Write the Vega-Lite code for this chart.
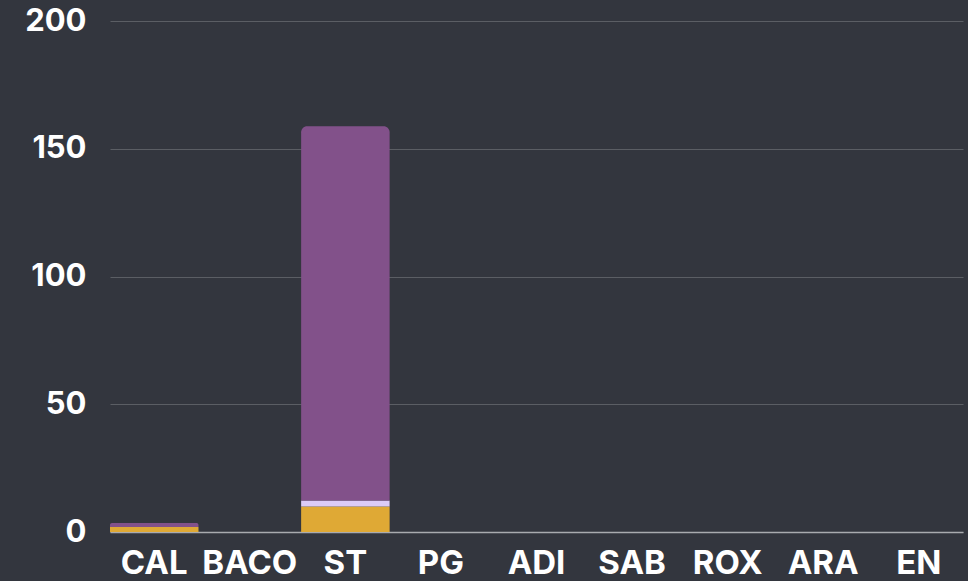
{
  "$schema": "https://vega.github.io/schema/vega-lite/v6.json",
  "autosize": "none",
  "width": 853,
  "height": 511,
  "padding": {"left": 110, "top": 21, "right": 5, "bottom": 49},
  "background": "#33363e",
  "config": {
    "view": {"stroke": null},
    "font": "Inter"
  },
  "data": {
    "values": [
      {"cat": "CAL", "series": "A", "order": 1, "value": 2},
      {"cat": "CAL", "series": "B", "order": 2, "value": 0},
      {"cat": "CAL", "series": "C", "order": 3, "value": 1.5},
      {"cat": "BACO", "series": "A", "order": 1, "value": 0},
      {"cat": "ST", "series": "A", "order": 1, "value": 10},
      {"cat": "ST", "series": "B", "order": 2, "value": 2.3},
      {"cat": "ST", "series": "C", "order": 3, "value": 146.5},
      {"cat": "PG", "series": "A", "order": 1, "value": 0},
      {"cat": "ADI", "series": "A", "order": 1, "value": 0},
      {"cat": "SAB", "series": "A", "order": 1, "value": 0},
      {"cat": "ROX", "series": "A", "order": 1, "value": 0},
      {"cat": "ARA", "series": "A", "order": 1, "value": 0},
      {"cat": "EN", "series": "A", "order": 1, "value": 0}
    ]
  },
  "transform": [
    {"stack": "value", "groupby": ["cat"], "sort": [{"field": "order", "order": "ascending"}], "as": ["y0", "y1"]}
  ],
  "encoding": {
    "x": {
      "field": "cat",
      "type": "nominal",
      "sort": ["CAL", "BACO", "ST", "PG", "ADI", "SAB", "ROX", "ARA", "EN"],
      "scale": {"paddingInner": 0.074, "paddingOuter": 0, "align": 0},
      "axis": {
        "title": null,
        "labelAngle": 0,
        "labelColor": "#ffffff",
        "labelFont": "Inter",
        "labelFontWeight": "bold",
        "labelFontSize": 33,
        "labelPadding": 15,
        "ticks": false,
        "domainColor": "#a9abaf",
        "domainWidth": 1.5,
        "grid": false
      }
    },
    "y": {
      "field": "y1",
      "type": "quantitative",
      "scale": {"domain": [0, 200]},
      "axis": {
        "title": null,
        "values": [0, 50, 100, 150, 200],
        "labelColor": "#ffffff",
        "labelFont": "Inter",
        "labelFontWeight": "bold",
        "labelFontSize": 31,
        "labelPadding": 24,
        "ticks": false,
        "domain": false,
        "gridColor": "#5b5e64",
        "gridWidth": 1
      }
    },
    "y2": {"field": "y0"},
    "color": {
      "field": "series",
      "type": "nominal",
      "scale": {"domain": ["A", "B", "C"], "range": ["#dfa935", "#dccbf7", "#82518a"]},
      "legend": null
    }
  },
  "layer": [
    {
      "transform": [{"filter": "datum.series != 'C'"}],
      "mark": {"type": "bar"}
    },
    {
      "transform": [{"filter": "datum.series == 'C'"}],
      "mark": {"type": "bar", "cornerRadiusTopLeft": 6, "cornerRadiusTopRight": 6}
    }
  ]
}
